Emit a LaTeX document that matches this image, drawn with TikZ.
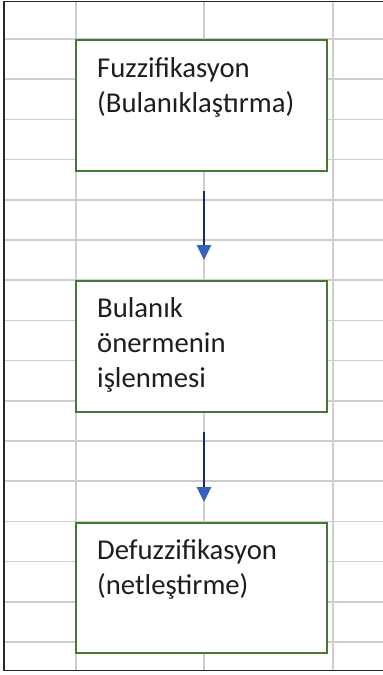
\documentclass[tikz,border=0pt]{standalone}
\usepackage{fontspec}
\setmainfont{Carlito}
\usetikzlibrary{arrows.meta,calc}
\definecolor{gridgray}{RGB}{206,206,206}
\definecolor{boxgreen}{RGB}{68,122,48}
\definecolor{linenavy}{RGB}{28,38,120}
\definecolor{headblue}{RGB}{52,98,190}
\definecolor{framecol}{RGB}{40,40,40}
\definecolor{txtcol}{RGB}{30,30,30}
\tikzset{
  gridline/.style={draw=gridgray,line width=1.6pt},
  framelines/.style={draw=framecol,line width=1.6pt},
  stepbox/.style={draw=boxgreen,fill=white,line width=1.5pt,minimum width=251pt,inner sep=0pt,anchor=north west},
  boxtext/.style={anchor=base west,inner sep=0pt,text=txtcol,font=\fontsize{28.7}{35}\selectfont},
  flow/.style={draw=linenavy,line width=1.8pt,shorten <=19pt,shorten >=20pt,
    -{Triangle[width=14.5pt,length=15pt,fill=headblue,color=headblue]}}
}
\newcommand{\boxlines}[1]{\begin{tabular}[t]{@{}l@{}}#1\end{tabular}}
\begin{document}
\begin{tikzpicture}[x=1pt,y=-1pt]
\useasboundingbox (0,0) rectangle (383,675);
\fill[white] (0,0) rectangle (383,675);
% grid
\foreach \gx in {76,204,333} \draw[gridline] (\gx,1.5) -- (\gx,670.5);
\foreach \k in {0,...,15} \draw[gridline] (4,{39+40.2*\k}) -- (383,{39+40.2*\k});
% frame
\draw[framelines] (383,1.5) -- (4,1.5) -- (4,670.5) -- (383,670.5);
% boxes
\node[stepbox,minimum height=131pt] (b1) at (75,39) {};
\node[stepbox,minimum height=131pt] (b2) at (75,280) {};
\node[stepbox,minimum height=130pt] (b3) at (75,522) {};
% texts
\node[boxtext] (t1) at ($(b1.north west)+(22,38)$) {\boxlines{Fuzzifikasyon\\(Bulanıklaştırma)}};
\node[boxtext] (t2) at ($(b2.north west)+(22,37.5)$) {\boxlines{Bulanık\\önermenin\\işlenmesi}};
\node[boxtext] (t3) at ($(b3.north west)+(22,37.5)$) {\boxlines{Defuzzifikasyon\\(netleştirme)}};
% arrows (on the column line x = 204)
\coordinate (axis) at (204,0);
\draw[flow] (b1.south -| axis) -- (b2.north -| axis);
\draw[flow] (b2.south -| axis) -- (b3.north -| axis);
\end{tikzpicture}
\end{document}
